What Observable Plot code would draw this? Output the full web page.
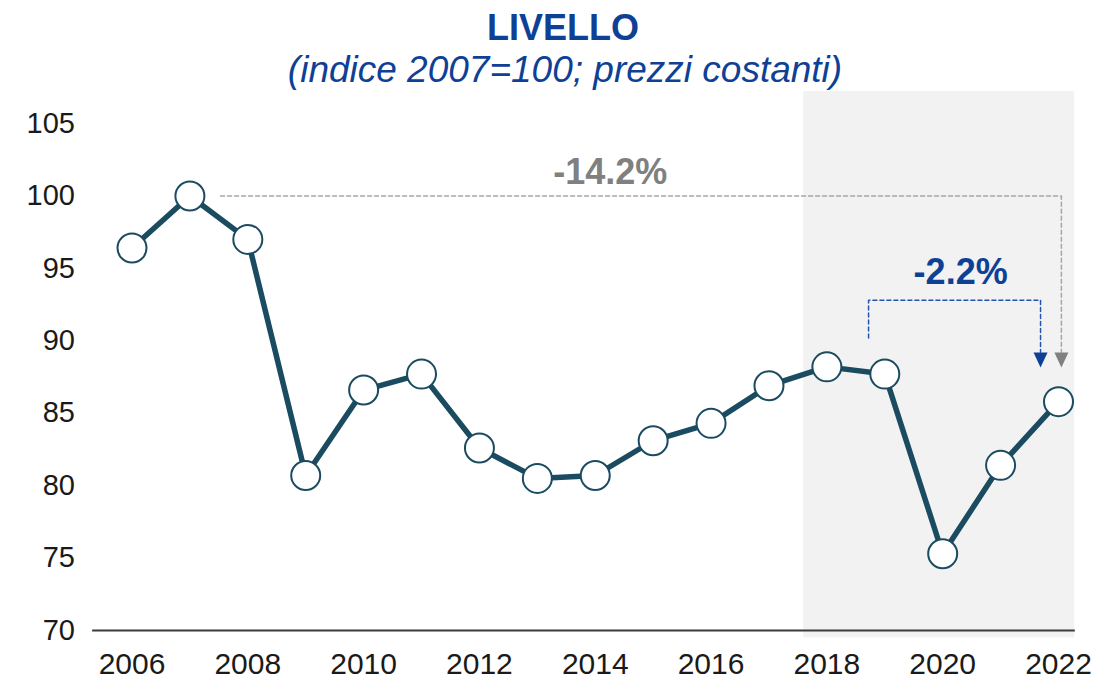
<!DOCTYPE html>
<html>
<head>
<meta charset="utf-8">
<script src="https://cdn.jsdelivr.net/npm/d3@7"></script>
<script src="https://cdn.jsdelivr.net/npm/@observablehq/plot@0.6"></script>
<style>
  html, body { margin: 0; padding: 0; background: #fff; }
  #wrap { width: 1094px; position: relative; font-family: "Liberation Sans", Arial, sans-serif; }
  #head { position: relative; height: 88px; }
  #title { position: absolute; left: 32px; width: 1062px; top: 10px; text-align: center;
           font-size: 36px; line-height: 36px; font-weight: bold; color: #0e4096; }
  #subtitle { position: absolute; left: 36px; width: 1058px; top: 51px; text-align: center;
           font-size: 37px; line-height: 37px; font-style: italic; color: #0e4096; }
</style>
</head>
<body>
<div id="wrap">
  <div id="head">
    <div id="title">LIVELLO</div>
    <div id="subtitle">(indice 2007=100; prezzi costanti)</div>
  </div>
  <div id="chart"></div>
</div>
<script>
// ---- data ----
const years  = [2006, 2007, 2008, 2009, 2010, 2011, 2012, 2013, 2014, 2015, 2016, 2017, 2018, 2019, 2020, 2021, 2022];
const values = [96.4, 100.0, 97.0, 80.7, 86.6, 87.7, 82.6, 80.5, 80.7, 83.1, 84.3, 86.9, 88.2, 87.7, 75.3, 81.4, 85.8];
const yTicks = [70, 75, 80, 85, 90, 95, 100, 105];
const xTicks = [2006, 2008, 2010, 2012, 2014, 2016, 2018, 2020, 2022];
// highlighted period (shaded band)
const bandX = [2017.6, 2022.28];
const bandY = [69.5, 107.2];
// axis baseline extent
const axisX = [2005.32, 2022.29];
// annotation: change 2007 -> 2022
const longLabel = "-14.2%";
const longPath = [[2007.53, 100], [2022.05, 100], [2022.05, 89.2]];
const longTip = [2022.05, 88.15];
const longText = [2014.26, 101.6];
// annotation: change 2019 -> 2022
const shortLabel = "-2.2%";
const shortPath = [[2018.72, 90.2], [2018.72, 92.8], [2021.69, 92.8], [2021.69, 89.2]];
const shortTip = [2021.69, 88.15];
const shortText = [2020.31, 94.74];

const data = years.map((y, i) => ({year: y, value: values[i]}));
const lineColor = "#1b4b60";
const greyLine = "#a6a6a6";
const greyArrow = "#808080";
const blue = "#0e4096";

const downTriangle = {
  draw(context) {
    context.moveTo(-7, -15);
    context.lineTo(7, -15);
    context.lineTo(0, 0);
    context.closePath();
  }
};

const W = 1094, H = 591;
const plot = Plot.plot({
  width: W,
  height: H,
  marginLeft: 131.5,
  marginRight: 36,
  marginTop: 35,
  marginBottom: 49,
  style: {fontFamily: "'Liberation Sans', Arial, sans-serif", background: "transparent", color: "#1a1a1a"},
  x: {domain: [2006, 2022], ticks: xTicks, tickFormat: d => String(d), tickSize: 0, tickPadding: 22, label: null},
  y: {domain: [70, 105], ticks: yTicks, tickSize: 0, tickPadding: 57, label: null},
  marks: [
    Plot.rect([0], {x1: () => bandX[0], x2: () => bandX[1], y1: () => bandY[0], y2: () => bandY[1], fill: "#f2f2f2"}),
    Plot.ruleY([70], {x1: () => axisX[0], x2: () => axisX[1], stroke: "#3a3a3a", strokeWidth: 2}),
    Plot.axisX({ticks: xTicks, tickFormat: d => String(d), tickSize: 0, tickPadding: 22, fontSize: 30, fill: "#1a1a1a", label: null}),
    Plot.axisY({ticks: yTicks, tickSize: 0, tickPadding: 57, fontSize: 29, fill: "#1a1a1a", label: null}),
    // annotations
    Plot.line(longPath, {x: d => d[0], y: d => d[1], stroke: greyLine, strokeWidth: 1.5, strokeDasharray: "4,3"}),
    Plot.dot([longTip], {x: d => d[0], y: d => d[1], symbol: downTriangle, fill: greyArrow, stroke: "none"}),
    Plot.text([longText], {x: d => d[0], y: d => d[1], text: () => longLabel, fill: greyArrow, fontSize: 36, fontWeight: "bold", textAnchor: "middle", lineAnchor: "middle"}),
    Plot.line(shortPath, {x: d => d[0], y: d => d[1], stroke: "#2355b0", strokeWidth: 1.5, strokeDasharray: "4,3"}),
    Plot.dot([shortTip], {x: d => d[0], y: d => d[1], symbol: downTriangle, fill: blue, stroke: "none"}),
    Plot.text([shortText], {x: d => d[0], y: d => d[1], text: () => shortLabel, fill: blue, fontSize: 36, fontWeight: "bold", textAnchor: "middle", lineAnchor: "middle"}),
    // series
    Plot.line(data, {x: "year", y: "value", stroke: lineColor, strokeWidth: 5.5, strokeLinejoin: "round"}),
    Plot.dot(data, {x: "year", y: "value", r: 14.5, fill: "#fff", stroke: lineColor, strokeWidth: 2, ariaLabel: "points"})
  ]
});

// drop shadow for the markers
const ns = "http://www.w3.org/2000/svg";
const defs = document.createElementNS(ns, "defs");
defs.innerHTML = '<filter id="shadow" x="-50%" y="-50%" width="200%" height="200%"><feDropShadow dx="3" dy="4" stdDeviation="2.2" flood-color="#000" flood-opacity="0.4"/></filter>';
plot.insertBefore(defs, plot.firstChild);
const pts = plot.querySelector('g[aria-label="points"]');
if (pts) pts.setAttribute("filter", "url(#shadow)");

document.getElementById("chart").appendChild(plot);
</script>
</body>
</html>
